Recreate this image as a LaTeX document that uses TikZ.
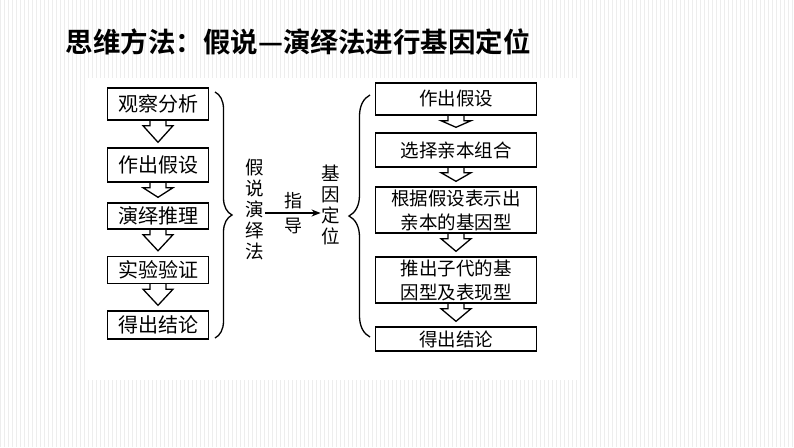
\documentclass[tikz,border=0pt]{standalone}
\usepackage{fontspec}
\setmainfont{Noto Sans CJK SC}
\newfontfamily\titlefont{Noto Sans CJK SC Bold}
\usetikzlibrary{calc,arrows.meta,decorations.pathreplacing}

\tikzset{
  stepbox/.style={draw, line width=1.4pt, inner sep=1pt, align=center,
                  font=\fontsize{18.5}{24}\selectfont},
  leftbox/.style={stepbox, minimum width=101pt, font=\fontsize{20}{24}\selectfont},
  rightbox/.style={stepbox, minimum width=161pt},
  vtext/.style={align=center, inner sep=1pt, font=\fontsize{18.5}{21}\selectfont},
  bigbrace/.style={decorate, line width=1.3pt},
}

% hollow block arrow from one box to the next
\newcommand{\hollowarrow}[2]{%
  \draw[line width=1.3pt, line join=miter]
    ($(#1.south)+(-8,0)$) -- ($(#1.south)+(-8,5)$) -- ($(#1.south)+(-15,5)$)
    -- ($(#2.north)+(0,-5)$)
    -- ($(#1.south)+(15,5)$) -- ($(#1.south)+(8,5)$) -- ($(#1.south)+(8,0)$);}

\begin{document}
\begin{tikzpicture}[x=1pt,y=-1pt]
\useasboundingbox (0,0) rectangle (794,447);
% \draw [help lines] (0,0) grid (794,447) ;

\fill[white] (0,0) rectangle (794,447);
\draw[black!7, line width=0.4pt, step=4] (0,0) grid (794,447);
\fill[white] (85,78) rectangle (578,380);

\node[anchor=west, font=\titlefont\fontsize{27.5}{30}\selectfont] (title) at (62,42)
  {思维方法：假说—演绎法进行基因定位};

% left column
\node[leftbox, minimum height=32pt] (a1) at (158,104) {观察分析};
\node[leftbox, minimum height=34pt] (a2) at (158,165) {作出假设};
\node[leftbox, minimum height=26pt] (a3) at (158,216) {演绎推理};
\node[leftbox, minimum height=27pt] (a4) at (158,270) {实验验证};
\node[leftbox, minimum height=28pt] (a5) at (158,325) {得出结论};

\hollowarrow{a1}{a2}
\hollowarrow{a2}{a3}
\hollowarrow{a3}{a4}
\hollowarrow{a4}{a5}

\draw[bigbrace, decoration={brace, amplitude=17pt}] (215,92) -- (215,338);

% middle
\node[vtext] (hs) at (255,210) {假\\说\\演\\绎\\法};
\node[vtext] (jy) at (331,205) {基\\因\\定\\位};
\draw[line width=1.2pt, -{Stealth[length=9pt, width=7pt]}]
  (hs.east |- 0,213) -- (jy.west |- 0,213)
  node[midway, vtext, font=\fontsize{18}{25}\selectfont] (zd) {指\\导};

\draw[bigbrace, decoration={brace, amplitude=21pt}] (370,337) -- (370,95);

% right column
\node[rightbox, minimum height=32pt] (b1) at (456,99)  {作出假设};
\node[rightbox, minimum height=34pt] (b2) at (456,150) {选择亲本组合};
\node[rightbox, minimum height=46pt] (b3) at (456,210) {根据假设表示出\\亲本的基因型};
\node[rightbox, minimum height=46pt] (b4) at (456,280) {推出子代的基\\因型及表现型};
\node[rightbox, minimum height=24pt] (b5) at (456,339) {得出结论};

\hollowarrow{b1}{b2}
\hollowarrow{b2}{b3}
\hollowarrow{b3}{b4}
\hollowarrow{b4}{b5}
\end{tikzpicture}
\end{document}
